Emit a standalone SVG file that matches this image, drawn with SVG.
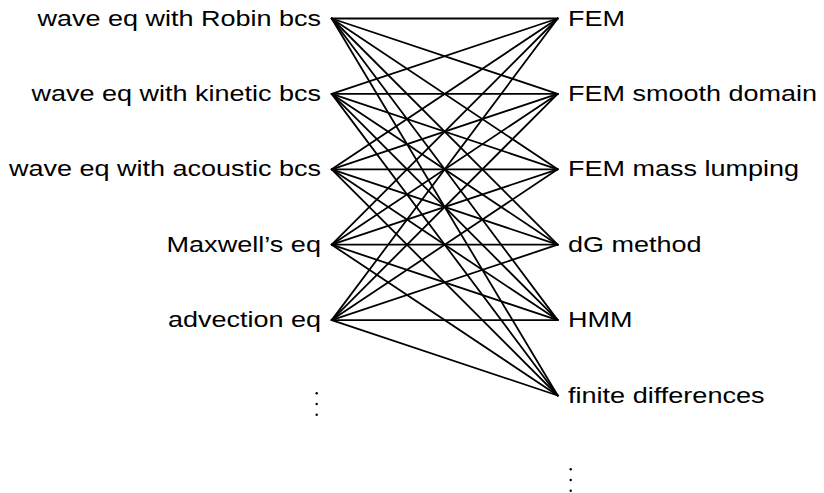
<svg xmlns="http://www.w3.org/2000/svg" width="824" height="493" viewBox="0 0 824 493">
<style>
text{font-family:"Liberation Sans",Arial,sans-serif;font-size:22px;fill:#000}
.l{text-anchor:end}
.e line{stroke:#000;stroke-width:1.8;stroke-linecap:round}
.d{fill:#000}
</style>
<rect width="824" height="493" fill="#fff"/>
<g class="e" id="connectors">
<line x1="331.7" y1="18.5" x2="557.7" y2="18.5"/><line x1="331.7" y1="18.5" x2="557.7" y2="93.9"/><line x1="331.7" y1="18.5" x2="557.7" y2="169.3"/><line x1="331.7" y1="18.5" x2="557.7" y2="244.7"/><line x1="331.7" y1="18.5" x2="557.7" y2="320.1"/><line x1="331.7" y1="18.5" x2="557.7" y2="395.5"/>
<line x1="331.7" y1="93.9" x2="557.7" y2="18.5"/><line x1="331.7" y1="93.9" x2="557.7" y2="93.9"/><line x1="331.7" y1="93.9" x2="557.7" y2="169.3"/><line x1="331.7" y1="93.9" x2="557.7" y2="244.7"/><line x1="331.7" y1="93.9" x2="557.7" y2="320.1"/><line x1="331.7" y1="93.9" x2="557.7" y2="395.5"/>
<line x1="331.7" y1="169.3" x2="557.7" y2="18.5"/><line x1="331.7" y1="169.3" x2="557.7" y2="93.9"/><line x1="331.7" y1="169.3" x2="557.7" y2="169.3"/><line x1="331.7" y1="169.3" x2="557.7" y2="244.7"/><line x1="331.7" y1="169.3" x2="557.7" y2="320.1"/><line x1="331.7" y1="169.3" x2="557.7" y2="395.5"/>
<line x1="331.7" y1="244.7" x2="557.7" y2="18.5"/><line x1="331.7" y1="244.7" x2="557.7" y2="93.9"/><line x1="331.7" y1="244.7" x2="557.7" y2="169.3"/><line x1="331.7" y1="244.7" x2="557.7" y2="244.7"/><line x1="331.7" y1="244.7" x2="557.7" y2="320.1"/><line x1="331.7" y1="244.7" x2="557.7" y2="395.5"/>
<line x1="331.7" y1="320.1" x2="557.7" y2="18.5"/><line x1="331.7" y1="320.1" x2="557.7" y2="93.9"/><line x1="331.7" y1="320.1" x2="557.7" y2="169.3"/><line x1="331.7" y1="320.1" x2="557.7" y2="244.7"/><line x1="331.7" y1="320.1" x2="557.7" y2="320.1"/><line x1="331.7" y1="320.1" x2="557.7" y2="395.5"/>
</g>
<g id="L1"><text class="l" x="321" y="25.5" textLength="283.6" lengthAdjust="spacingAndGlyphs">wave eq with Robin bcs</text></g>
<g id="L2"><text class="l" x="321" y="100.9" textLength="289.6" lengthAdjust="spacingAndGlyphs">wave eq with kinetic bcs</text></g>
<g id="L3"><text class="l" x="321" y="176.3" textLength="312.1" lengthAdjust="spacingAndGlyphs">wave eq with acoustic bcs</text></g>
<g id="L4"><text class="l" x="321" y="251.7" textLength="154.5" lengthAdjust="spacingAndGlyphs">Maxwell’s eq</text></g>
<g id="L5"><text class="l" x="321" y="327.1" textLength="153" lengthAdjust="spacingAndGlyphs">advection eq</text></g>
<g id="R1"><text x="568" y="25.5" textLength="57" lengthAdjust="spacingAndGlyphs">FEM</text></g>
<g id="R2"><text x="568" y="100.9" textLength="249" lengthAdjust="spacingAndGlyphs">FEM smooth domain</text></g>
<g id="R3"><text x="568" y="176.3" textLength="231" lengthAdjust="spacingAndGlyphs">FEM mass lumping</text></g>
<g id="R4"><text x="568" y="251.7" textLength="133.6" lengthAdjust="spacingAndGlyphs">dG method</text></g>
<g id="R5"><text x="568" y="327.1" textLength="64.5" lengthAdjust="spacingAndGlyphs">HMM</text></g>
<g id="R6"><text x="568" y="402.5" textLength="196.6" lengthAdjust="spacingAndGlyphs">finite differences</text></g>
<g id="vdots-left"><circle class="d" cx="316.7" cy="393.3" r="1.2"/><circle class="d" cx="316.7" cy="404" r="1.2"/><circle class="d" cx="316.7" cy="414.7" r="1.2"/></g>
<g id="vdots-right"><circle class="d" cx="570.7" cy="469.3" r="1.2"/><circle class="d" cx="570.7" cy="480" r="1.2"/><circle class="d" cx="570.7" cy="490.7" r="1.2"/></g>
</svg>
